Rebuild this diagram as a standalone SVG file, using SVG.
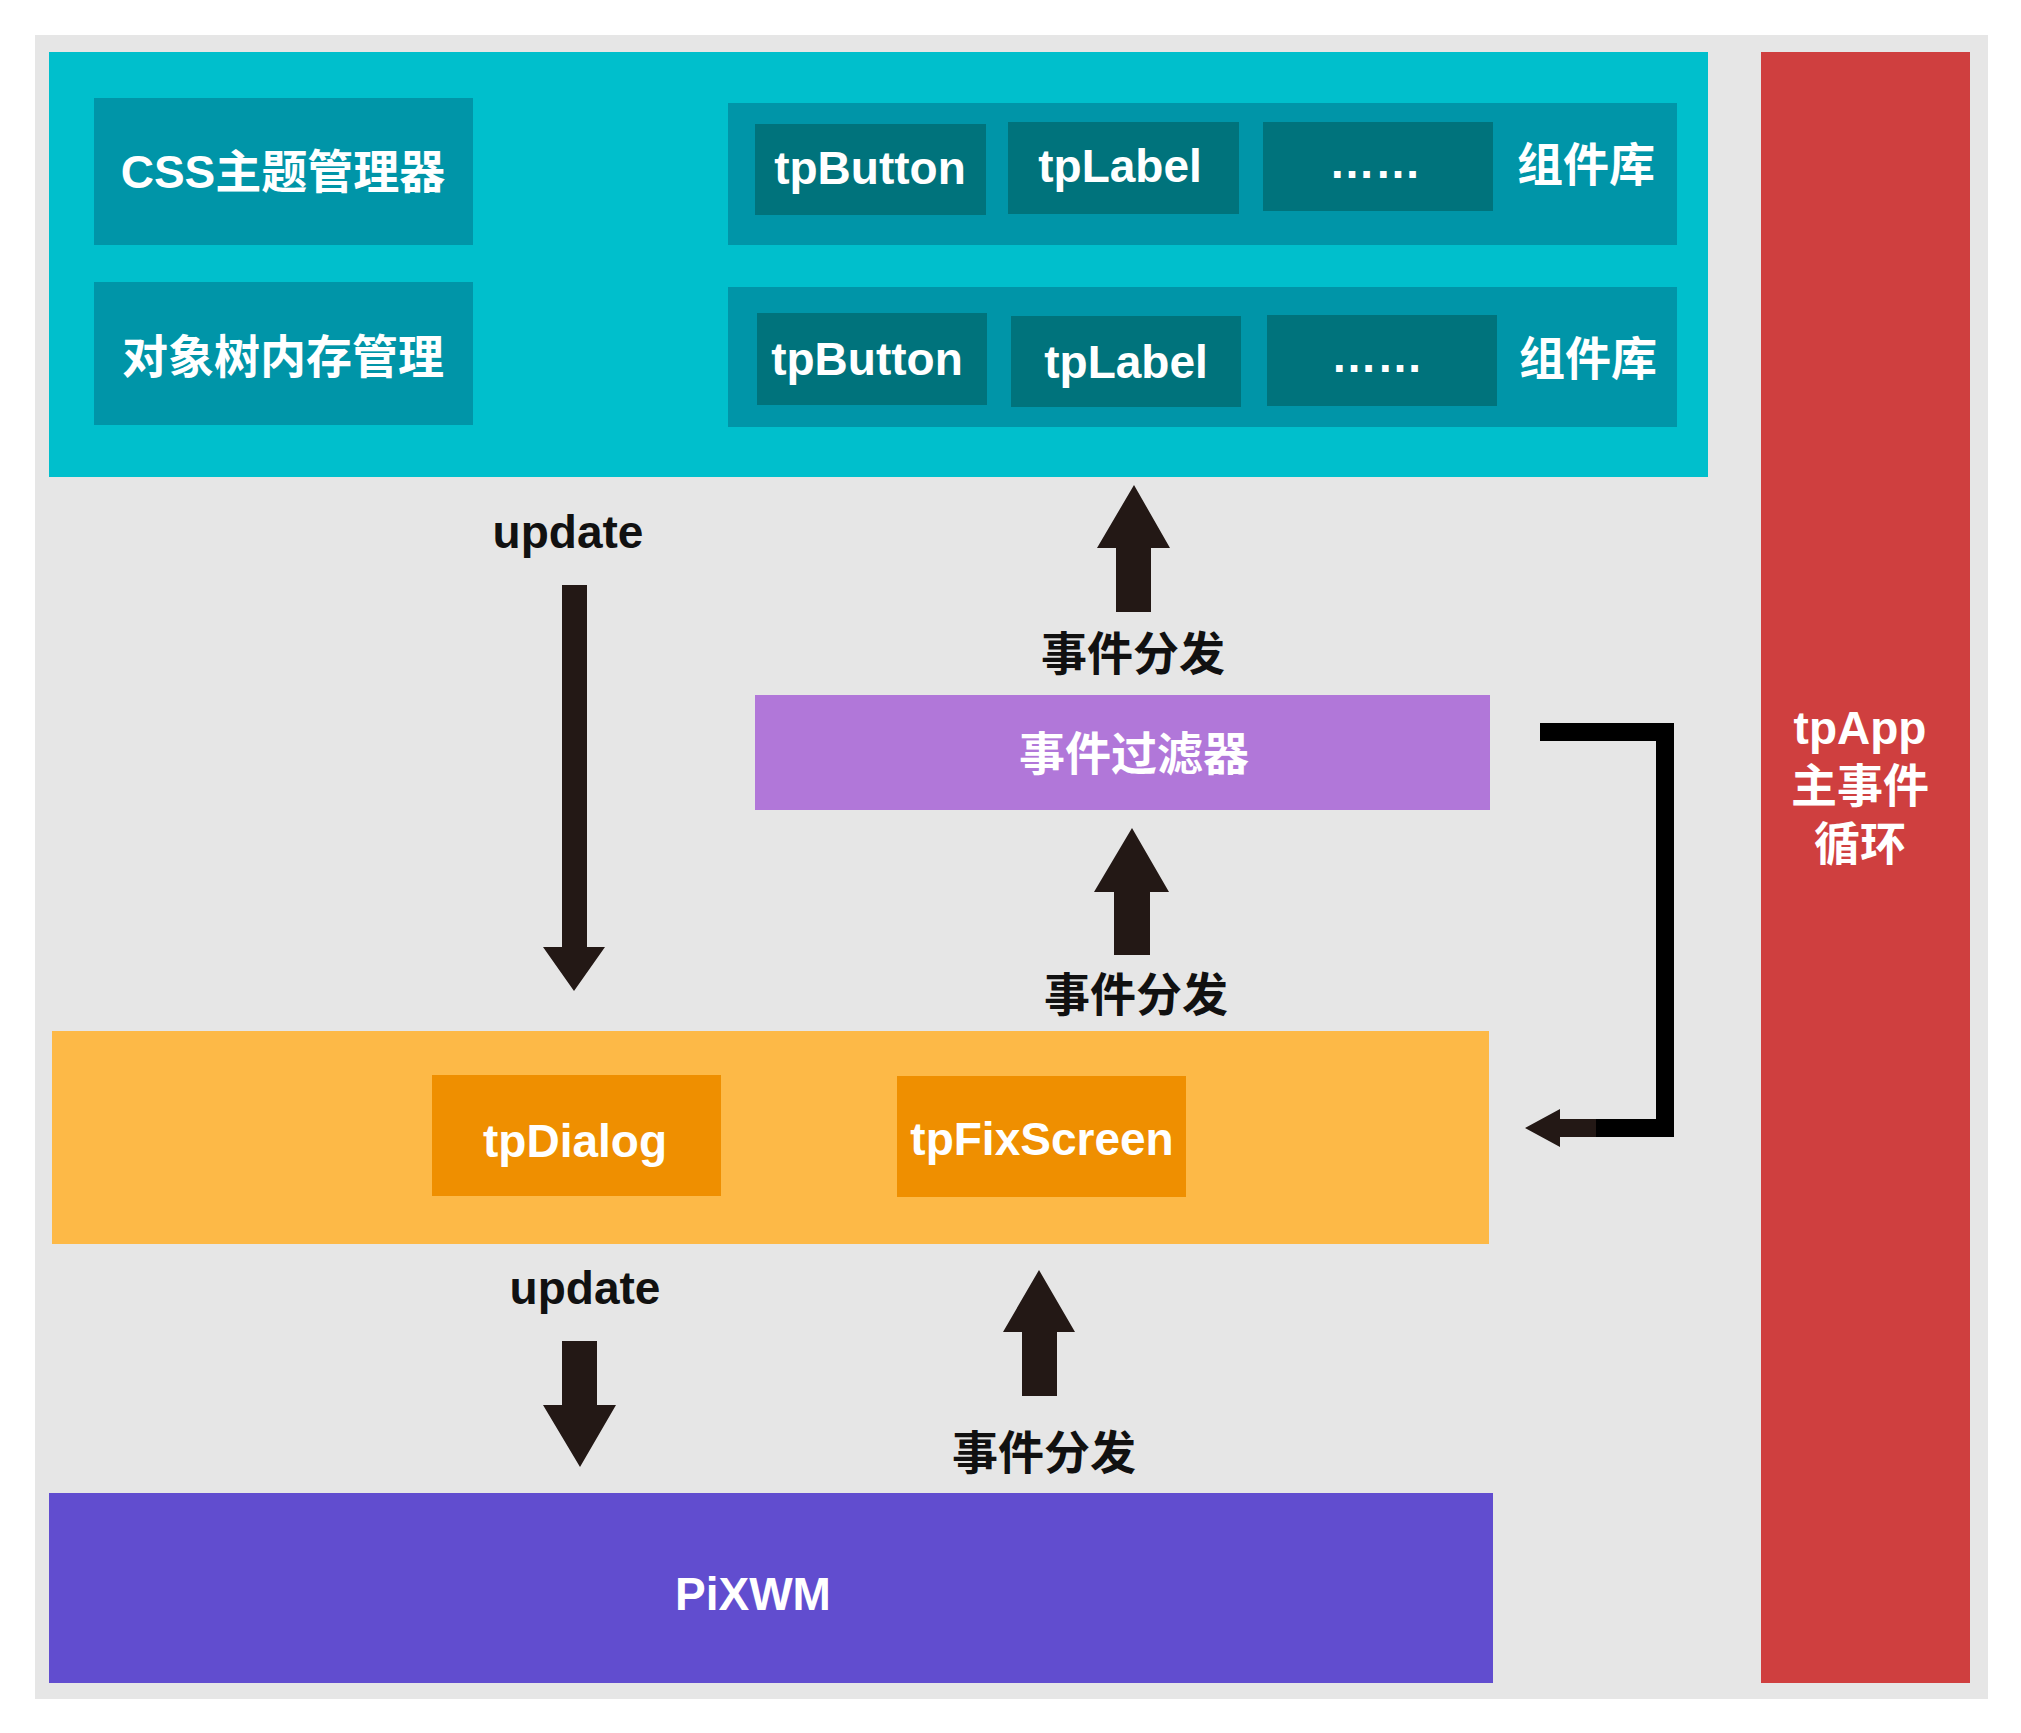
<svg xmlns="http://www.w3.org/2000/svg" width="2021" height="1733" viewBox="0 0 2021 1733">
<style>
text{font-family:"Liberation Sans","Noto Sans CJK SC",sans-serif;font-weight:bold;text-anchor:middle;dominant-baseline:central}
.w{fill:#fff;font-size:46px}
.k{fill:#111;font-size:46px}
.mid{fill:#0095a8}
.inner{fill:#00737c}
.arr{fill:#231815}
</style>
<rect width="2021" height="1733" fill="#fff"/>
<rect x="35" y="35" width="1953" height="1664" fill="#e6e6e6"/>
<g id="top">
<rect x="49" y="52" width="1659" height="425" fill="#00bfcc"/>
</g>
<g id="css"><rect class="mid" x="94" y="98" width="379" height="147"/><text class="w" x="283" y="172">CSS主题管理器</text></g>
<g id="objtree"><rect class="mid" x="94" y="282" width="379" height="143"/><text class="w" x="283" y="357">对象树内存管理</text></g>
<g id="lib1"><rect class="mid" x="728" y="103" width="949" height="142"/>
<rect class="inner" x="755" y="124" width="231" height="91"/><text class="w" x="870" y="168">tpButton</text>
<rect class="inner" x="1008" y="122" width="231" height="92"/><text class="w" x="1120" y="166">tpLabel</text>
<rect class="inner" x="1263" y="122" width="230" height="89"/><text class="w" x="1375" y="162">……</text>
<text class="w" x="1586" y="165">组件库</text></g>
<g id="lib2"><rect class="mid" x="728" y="287" width="949" height="140"/>
<rect class="inner" x="757" y="313" width="230" height="92"/><text class="w" x="867" y="359">tpButton</text>
<rect class="inner" x="1011" y="316" width="230" height="91"/><text class="w" x="1126" y="362">tpLabel</text>
<rect class="inner" x="1267" y="315" width="230" height="91"/><text class="w" x="1377" y="356">……</text>
<text class="w" x="1588" y="359">组件库</text></g>
<g id="tpapp"><rect x="1761" y="52" width="209" height="1631" fill="#cf3f3f"/>
<text class="w" x="1860" y="728">tpApp</text><text class="w" x="1860" y="786">主事件</text><text class="w" x="1860" y="844">循环</text></g>
<g id="filter"><rect x="755" y="695" width="735" height="115" fill="#b177d9"/><text class="w" x="1134" y="754">事件过滤器</text></g>
<g id="dialogs"><rect x="52" y="1031" width="1437" height="213" fill="#fdb947"/>
<rect x="432" y="1075" width="289" height="121" fill="#ef8f00"/><text class="w" x="575" y="1141">tpDialog</text>
<rect x="897" y="1076" width="289" height="121" fill="#ef8f00"/><text class="w" x="1042" y="1139">tpFixScreen</text></g>
<g id="pixwm"><rect x="49" y="1493" width="1444" height="190" fill="#614dcf"/><text class="w" x="753" y="1594">PiXWM</text></g>
<g id="connectors">
<text class="k" x="568" y="532">update</text>
<polygon class="arr" points="562,585 587,585 587,947 605,947 574,991 543,947 562,947"/>
<polygon class="arr" points="1134,485 1170,548 1151,548 1151,612 1116,612 1116,548 1097,548"/>
<text class="k" x="1133" y="654">事件分发</text>
<polygon class="arr" points="1132,828 1169,892 1150,892 1150,955 1114,955 1114,892 1094,892"/>
<text class="k" x="1136" y="995">事件分发</text>
<text class="k" x="585" y="1288">update</text>
<polygon class="arr" points="562,1341 597,1341 597,1405 616,1405 580,1467 543,1405 562,1405"/>
<polygon class="arr" points="1039,1270 1075,1332 1057,1332 1057,1396 1022,1396 1022,1332 1003,1332"/>
<text class="k" x="1044" y="1453">事件分发</text>
<polyline points="1540,732 1665,732 1665,1128 1596,1128" fill="none" stroke="#000" stroke-width="18"/>
<polygon class="arr" points="1525,1128 1560,1109 1560,1119 1596,1119 1596,1137 1560,1137 1560,1147"/>
</g>
</svg>
